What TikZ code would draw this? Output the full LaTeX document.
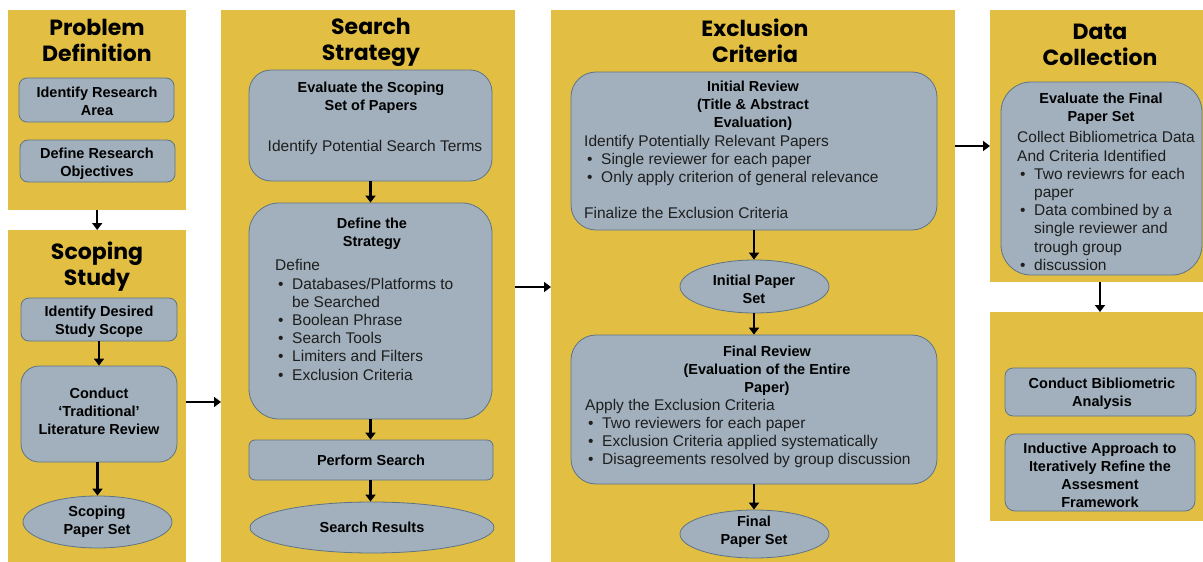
\documentclass[tikz,border=0pt]{standalone}
\usepackage{fontspec}
\setmainfont{Liberation Sans}
\newfontfamily\headfont{Poppins}
\usetikzlibrary{arrows.meta,shapes.geometric}
\definecolor{panelY}{HTML}{E2BF43}
\definecolor{boxF}{HTML}{A1B0BC}
\definecolor{boxD}{HTML}{5D7486}
\definecolor{txt}{HTML}{1E1E1E}
\newcommand{\bl}{\hspace*{3pt}\makebox[14pt][l]{•}}
\newcommand{\ind}{\hspace*{17pt}}
\begin{document}
\begin{tikzpicture}[x=1pt,y=-1pt,
  panel/.style={fill=panelY,draw=none,anchor=north west,inner sep=0pt},
  rbox/.style={fill=boxF,draw=boxD,line width=0.8pt,inner sep=0pt},
  ebox/.style={ellipse,fill=boxF,draw=boxD,line width=0.8pt,inner sep=0pt},
  head/.style={font={\headfont\bfseries\fontsize{22pt}{26pt}\selectfont},align=center,inner sep=0pt,text=black},
  btitle/.style={font={\bfseries\fontsize{14.5pt}{18pt}\selectfont},align=center,inner sep=0pt,text=black},
  body/.style={font={\fontsize{15.5pt}{18.2pt}\selectfont},align=left,inner sep=0pt,text=txt,anchor=west},
  arr/.style={draw=black,line width=2.4pt,-{Triangle[length=7pt,width=10pt]}}
]
\useasboundingbox (0,0) rectangle (1203,562);
\fill[white] (0,0) rectangle (1203,562);

% panels
\node[panel,minimum width=178pt,minimum height=200pt] (pd) at (8,10) {};
\node[panel,minimum width=178pt,minimum height=332pt] (ss) at (8,230) {};
\node[panel,minimum width=294pt,minimum height=552pt] (st) at (221,10) {};
\node[panel,minimum width=404pt,minimum height=552pt] (ec) at (551,10) {};
\node[panel,minimum width=213pt,minimum height=272pt] (dc) at (990,10) {};
\node[panel,minimum width=213pt,minimum height=209pt] (da) at (990,312) {};

% headings
\node[head] (hpd) at (97,40) {Problem\\Definition};
\node[head] (hss) at (97,267) {Scoping\\Study};
\node[head] (hst) at (371,42) {Search\\Strategy};
\node[head] (hec) at (755,40.5) {Exclusion\\Criteria};
\node[head] (hdc) at (1100,45) {Data\\Collection};

% Problem definition
\node[rbox,rounded corners=8pt,minimum width=155pt,minimum height=44pt] (ira) at (96.5,100) {};
\node[btitle] (tira) at (97,101.5) {Identify Research\\Area};
\node[rbox,rounded corners=8pt,minimum width=155pt,minimum height=42pt] (dro) at (97.5,161) {};
\node[btitle] (tdro) at (97,163.5) {Define Research\\Objectives};

% Scoping study
\node[rbox,rounded corners=8pt,minimum width=156pt,minimum height=43pt] (ids) at (99,319.5) {};
\node[btitle] (tids) at (99,321.5) {Identify Desired\\Study Scope};
\node[rbox,rounded corners=18pt,minimum width=156pt,minimum height=96pt] (ctl) at (99,414) {};
\node[btitle] (tctl) at (99,411) {Conduct\\`Traditional'\\Literature Review};
\node[ebox,minimum width=149pt,minimum height=52pt] (sps) at (97.5,522) {};
\node[btitle] (tsps) at (97,522) {Scoping\\Paper Set};

% Search strategy
\node[rbox,rounded corners=22pt,minimum width=243pt,minimum height=111pt] (ess) at (370.5,125.5) {};
\node[btitle] (tess) at (371,97.5) {Evaluate the Scoping\\Set of Papers};
\node[body,anchor=center] (bess) at (375,147.5) {Identify Potential Search Terms};
\node[rbox,rounded corners=30pt,minimum width=243pt,minimum height=216pt] (dts) at (370.5,311) {};
\node[btitle] (tdts) at (372,234) {Define the\\Strategy};
\node[body] (bdts) at (275,320) {Define\\\bl Databases/Platforms to\\\ind be Searched\\\bl Boolean Phrase\\\bl Search Tools\\\bl Limiters and Filters\\\bl Exclusion Criteria};
\node[rbox,rounded corners=6pt,minimum width=244pt,minimum height=40pt] (ps) at (371,460) {};
\node[btitle] (tps) at (371,460.5) {Perform Search};
\node[ebox,minimum width=244pt,minimum height=51pt] (sr) at (372,527.5) {};
\node[btitle] (tsr) at (372,527) {Search Results};

% Exclusion criteria
\node[rbox,rounded corners=25pt,minimum width=366pt,minimum height=158pt] (ir) at (754,151) {};
\node[btitle] (tir) at (753,105.5) {Initial Review\\(Title \& Abstract\\Evaluation)};
\node[body] (bir) at (584,177) {Identify Potentially Relevant Papers\\\bl Single reviewer for each paper\\\bl Only apply criterion of general relevance\\[18pt]Finalize the Exclusion Criteria};
\node[ebox,minimum width=149pt,minimum height=53pt] (ips) at (754.5,286.5) {};
\node[btitle] (tips) at (754,289.5) {Initial Paper\\Set};
\node[rbox,rounded corners=25pt,minimum width=366pt,minimum height=149pt] (fr) at (754,409.5) {};
\node[btitle] (tfr) at (767,370.5) {Final Review\\(Evaluation of the Entire\\Paper)};
\node[body] (bfr) at (585,433.5) {Apply the Exclusion Criteria\\\bl Two reviewers for each paper\\\bl Exclusion Criteria applied systematically\\\bl Disagreements resolved by group discussion};
\node[ebox,minimum width=149pt,minimum height=48pt] (fps) at (754.5,534) {};
\node[btitle] (tfps) at (754,532) {Final\\Paper Set};

% Data collection
\node[rbox,rounded corners=30pt,minimum width=201pt,minimum height=193pt] (efp) at (1101.5,178.5) {};
\node[btitle] (tefp) at (1101,109) {Evaluate the Final\\Paper Set};
\node[body] (befp) at (1017,201) {Collect Bibliometrica Data\\And Criteria Identified\\\bl Two reviewrs for each\\\ind paper\\\bl Data combined by a\\\ind single reviewer and\\\ind trough group\\\bl discussion};
\node[rbox,rounded corners=8pt,minimum width=191pt,minimum height=48pt] (cba) at (1100.5,392) {};
\node[btitle] (tcba) at (1102,393.5) {Conduct Bibliometric\\Analysis};
\node[rbox,rounded corners=10pt,minimum width=190pt,minimum height=77pt] (iaf) at (1100,472.5) {};
\node[btitle] (tiaf) at (1100,475.5) {Inductive Approach to\\Iteratively Refine the\\Assesment\\Framework};

% connectors
\coordinate (ya) at (0,402);
\coordinate (yb) at (0,287);
\coordinate (yc) at (0,146);
\coordinate (xd) at (1100,0);
\draw[arr] (pd.south) -- (ss.north);
\draw[arr] (ids.south) -- (ctl.north);
\draw[arr] (ctl.south -| sps.north) -- (sps.north);
\draw[arr] (ss.east |- ya) -- (st.west |- ya);
\draw[arr] (ess.south) -- (dts.north);
\draw[arr] (dts.south) -- (dts.south |- ps.north);
\draw[arr] (ps.south -| dts.south) -- (dts.south |- sr.north);
\draw[arr] (st.east |- yb) -- (ec.west |- yb);
\draw[arr] (ir.south) -- (ir.south |- ips.north);
\draw[arr] (ips.south -| ir.south) -- (ir.south |- fr.north);
\draw[arr] (fr.south -| ir.south) -- (ir.south |- fps.north);
\draw[arr] (ec.east |- yc) -- (dc.west |- yc);
\draw[arr] (dc.south -| xd) -- (da.north -| xd);
\end{tikzpicture}
\end{document}
